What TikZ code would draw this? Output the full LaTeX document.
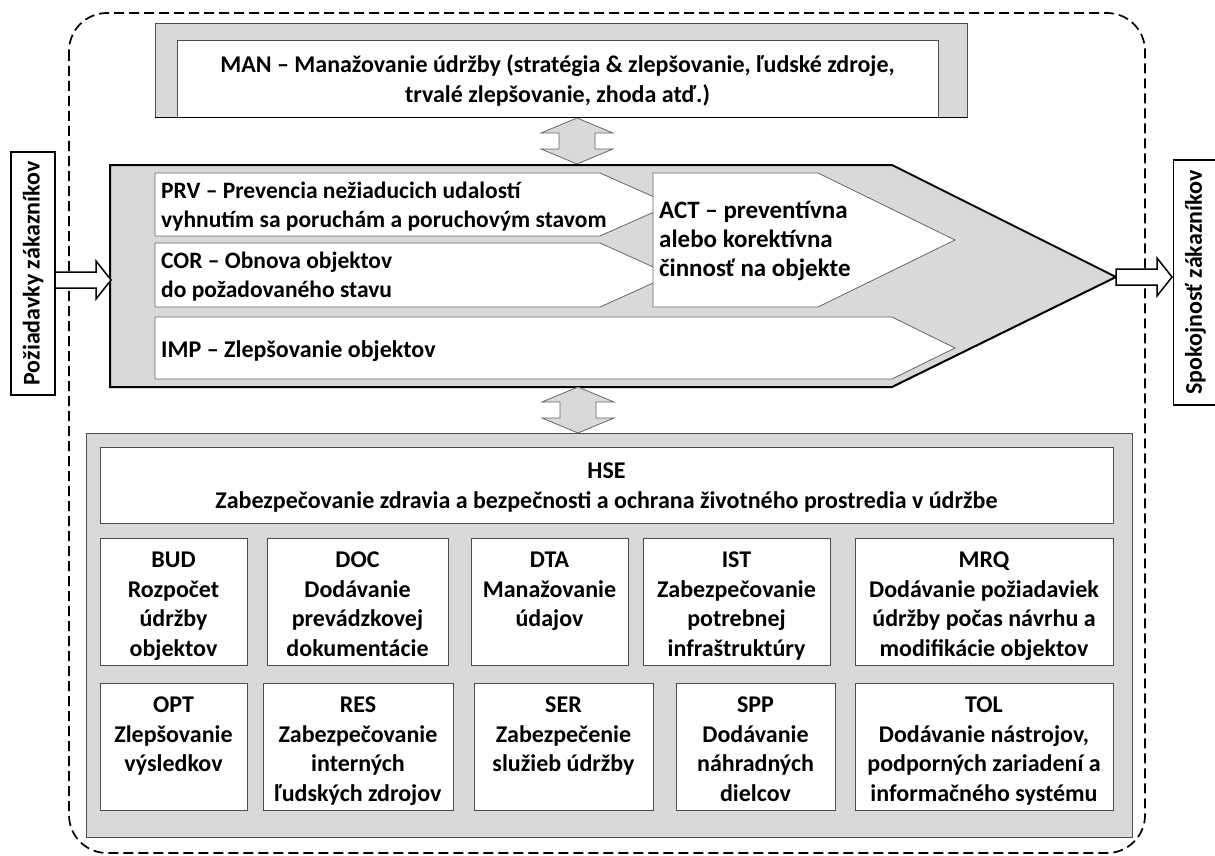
\documentclass[tikz,border=0pt]{standalone}
\usepackage{fontspec}
\setmainfont{Carlito}
\usetikzlibrary{calc}
\newcommand\tstrut{\rule{0pt}{29pt}}

\begin{document}
\begin{tikzpicture}[x=1pt,y=-1pt,
	every node/.style={font=\bfseries\fontsize{24}{29.5}\selectfont,inner sep=0pt},
	gbox/.style={draw=black!70,fill=black!15,line width=0.8pt},
	wbox/.style={draw=black!70,fill=white,line width=0.8pt,align=center},
	cell/.style={wbox,minimum height=126pt},
	chev/.style={draw=black!60,fill=white,line width=0.8pt},
	side/.style={draw,fill=white,line width=1.2pt,rotate=90,minimum height=44pt},
	updown/.pic={\draw[fill=black!15,draw=black!60,line width=0.8pt] (0,0) -- (36,15) -- (18,15) -- (18,31)
			-- (36,31) -- (0,46) -- (-36,31) -- (-18,31) -- (-18,15) -- (-36,15) -- cycle;},
	hollow/.pic={\draw[fill=white,line width=1.5pt,line join=miter] (0,-8) -- (41,-8) -- (41,-19) -- (56,0)
			-- (41,19) -- (41,8) -- (0,8) -- cycle;}]
	\useasboundingbox (0,0) rectangle (1215,856);

	% outer frame
	\draw[dash pattern=on 10pt off 5pt,line width=1.7pt,rounded corners=38pt] (69,13) rectangle (1145,853);

	% customers
	\node[side,minimum width=243pt] (req) at (33,273.5) {Požiadavky zákazníkov};
	\node[side,minimum width=245pt] (sat) at (1195.5,282.5) {Spokojnosť zákazníkov};

	% management
	\node[gbox,minimum width=812pt,minimum height=94pt] (manfr) at (561,70) {};
	\node[wbox,minimum width=761pt,minimum height=77pt] (man) at (557.5,78.5)
		{\rule{0pt}{27pt}MAN – Manažovanie údržby (stratégia \& zlepšovanie, ľudské zdroje,\\trvalé zlepšovanie, zhoda atď.)\strut};
	\draw[line width=1.5pt] (manfr.south west) -- (manfr.south east);
	\pic at (577,118) {updown};

	% main process
	\draw[fill=black!15,line width=2pt,line join=miter] (110,165) -- (892,165) -- (1116,277) -- (892,387)
		-- (110,387) -- cycle;
	\coordinate (tip) at (1116,277);
	\coordinate (tail) at (55,280);

	\draw[chev] (155,173) -- (600,173) -- (671,204.5) -- (600,236) -- (155,236) -- cycle;
	\node[anchor=west,align=left,font=\bfseries\fontsize{23.5}{29}\selectfont] (prv) at (161,207)
		{PRV – Prevencia nežiaducich udalostí\\vyhnutím sa poruchám a poruchovým stavom};
	\draw[chev] (155,243) -- (600,243) -- (671,275) -- (600,307) -- (155,307) -- cycle;
	\node[anchor=west,align=left,font=\bfseries\fontsize{23.5}{29}\selectfont] (cor) at (161,277)
		{COR – Obnova objektov\\do požadovaného stavu};
	\draw[chev] (653,173) -- (818,173) -- (955,240) -- (818,307) -- (653,307) -- cycle;
	\node[anchor=west,align=left,font=\bfseries\fontsize{25}{29}\selectfont] (act) at (659,241)
		{ACT – preventívna\\alebo korektívna\\činnosť na objekte};
	\draw[chev] (155,317) -- (892,317) -- (955,348) -- (892,379) -- (155,379) -- cycle;
	\node[anchor=west,align=left] (imp) at (161,351) {IMP – Zlepšovanie objektov};

	\pic at (tail) {hollow};
	\pic at (tip) {hollow};
	\pic at (578,387) {updown};

	% support
	\node[gbox,minimum width=1046pt,minimum height=404pt] (supp) at (609,635) {};
	\node[wbox,minimum width=1013pt,minimum height=76pt] (hse) at (606.5,485)
		{\rule{0pt}{26pt}HSE\\Zabezpečovanie zdravia a bezpečnosti a ochrana životného prostredia v údržbe\strut};

	\node[cell,minimum width=147pt] (bud) at (173.5,602) {\tstrut BUD\\Rozpočet\\údržby\\objektov\strut};
	\node[cell,minimum width=181pt] (doc) at (357.5,602) {\tstrut DOC\\Dodávanie\\prevádzkovej\\dokumentácie\strut};
	\node[cell,minimum width=157pt] (dta) at (549.5,602) {\tstrut DTA\\Manažovanie\\údajov\\\strut};
	\node[cell,minimum width=187pt] (ist) at (736.5,602) {\tstrut IST\\Zabezpečovanie\\potrebnej\\infraštruktúry\strut};
	\node[cell,minimum width=258pt] (mrq) at (984,602)
		{\tstrut MRQ\\Dodávanie požiadaviek\\údržby počas návrhu a\\modifikácie objektov\strut};

	\node[cell,minimum width=147pt] (opt) at (173.5,747) {\tstrut OPT\\Zlepšovanie\\výsledkov\\\strut};
	\node[cell,minimum width=190pt] (res) at (358,747) {\tstrut RES\\Zabezpečovanie\\interných\\ľudských zdrojov\strut};
	\node[cell,minimum width=179pt] (ser) at (563.5,747) {\tstrut SER\\Zabezpečenie\\služieb údržby\\\strut};
	\node[cell,minimum width=159pt] (spp) at (755.5,747) {\tstrut SPP\\Dodávanie\\náhradných\\dielcov\strut};
	\node[cell,minimum width=258pt] (tol) at (984,747)
		{\tstrut TOL\\Dodávanie nástrojov,\\podporných zariadení a\\informačného systému\strut};
\end{tikzpicture}
\end{document}
